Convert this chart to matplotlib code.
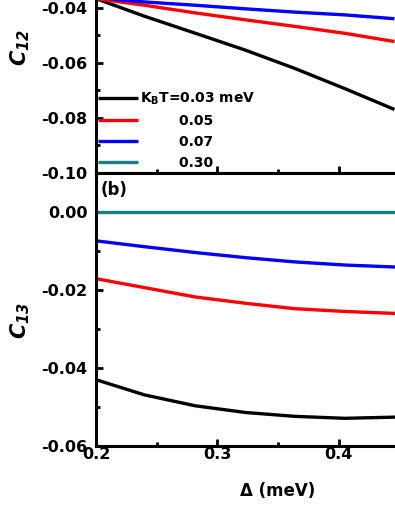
import matplotlib
matplotlib.use('Agg')
import matplotlib.pyplot as plt
from matplotlib.ticker import MultipleLocator, FixedLocator, FormatStrFormatter

plt.rcParams['font.family'] = 'DejaVu Sans'
plt.rcParams['font.weight'] = 'bold'
plt.rcParams['axes.labelweight'] = 'bold'

# Delta (meV)
delta = [0.200, 0.240, 0.282, 0.323, 0.364, 0.405, 0.446]

# C12 for each temperature
c12_003 = [-0.0366, -0.0430, -0.0492, -0.0553, -0.0620, -0.0693, -0.0769]
c12_005 = [-0.0366, -0.0390, -0.0418, -0.0443, -0.0467, -0.0492, -0.0522]
c12_007 = [-0.0363, -0.0378, -0.0390, -0.0403, -0.0415, -0.0425, -0.0439]
c12_030 = [-0.0005, -0.0005, -0.0005, -0.0005, -0.0005, -0.0005, -0.0005]

# C13 for each temperature
c13_003 = [-0.0430, -0.0469, -0.0497, -0.0514, -0.0524, -0.0529, -0.0526]
c13_005 = [-0.0171, -0.0194, -0.0218, -0.0234, -0.0248, -0.0255, -0.0260]
c13_007 = [-0.0074, -0.0089, -0.0104, -0.0117, -0.0128, -0.0136, -0.0141]
c13_030 = [-0.0001, -0.0001, -0.0001, -0.0001, -0.0001, -0.0001, -0.0001]

labels = ['K$_{\\mathregular{B}}$T=0.03 meV', '        0.05', '        0.07', '        0.30']
colors = ['black', '#ff0000', '#0000ff', '#178080']

fig = plt.figure(figsize=(3.95, 5.11), dpi=100)
W, H = 395.0, 511.0
left = 96 / W
width = (460 - 96) / W
ax1 = fig.add_axes([left, (H - 173) / H, width, 275 / H])
ax2 = fig.add_axes([left, (H - 446) / H, width, 273 / H])

lw = 2.4
for ys, c, lab in zip([c12_003, c12_005, c12_007, c12_030], colors, labels):
    ax1.plot(delta, ys, color=c, lw=lw, label=lab, solid_capstyle='butt')
for ys, c in zip([c13_003, c13_005, c13_007, c13_030], colors):
    ax2.plot(delta, ys, color=c, lw=lw)

ax1.set_ylim(-0.10, 0.0)
ax2.set_ylim(-0.06, 0.01)
for ax in (ax1, ax2):
    ax.set_xlim(0.2, 0.5)
    ax.xaxis.set_major_locator(FixedLocator([0.2, 0.3, 0.4]))
    ax.xaxis.set_minor_locator(MultipleLocator(0.05))
    ax.yaxis.set_minor_locator(MultipleLocator(0.01))
    ax.tick_params(which='major', direction='in', length=5, width=2, labelsize=11.5)
    ax.tick_params(which='minor', direction='in', length=3, width=2)
    ax.tick_params(axis='y', pad=6)
    ax.tick_params(axis='x', pad=1)
    for s in ax.spines.values():
        s.set_linewidth(2.2)
    ax.spines['right'].set_visible(False)
    ax.yaxis.set_major_formatter(FormatStrFormatter('%.2f'))

ax1.yaxis.set_major_locator(FixedLocator([-0.10, -0.08, -0.06, -0.04]))
ax2.yaxis.set_major_locator(FixedLocator([-0.06, -0.04, -0.02, 0.0]))
ax1.spines['top'].set_visible(False)
ax1.tick_params(axis='x', labelbottom=False)
ax2.xaxis.set_major_formatter(FormatStrFormatter('%.1f'))

ax1.set_ylabel('C$_{\\mathregular{12}}$', fontsize=15, fontstyle='italic')
ax2.set_ylabel('C$_{\\mathregular{13}}$', fontsize=15, fontstyle='italic')
ax1.yaxis.set_label_coords(-0.175, 0.455)
ax2.yaxis.set_label_coords(-0.175, 0.458)
ax2.set_xlabel('\u0394 (meV)', fontsize=12, labelpad=14)

ax2.text(0.012, 0.97, '(b)', transform=ax2.transAxes, fontsize=12,
         fontweight='bold', ha='left', va='top')

ax1.legend(loc='lower left', bbox_to_anchor=(0.005, 0.01), frameon=False,
           fontsize=10, handlelength=2.9, handletextpad=0.15,
           labelspacing=0.5, borderpad=0, borderaxespad=0)

plt.savefig('out.png', dpi=100)
